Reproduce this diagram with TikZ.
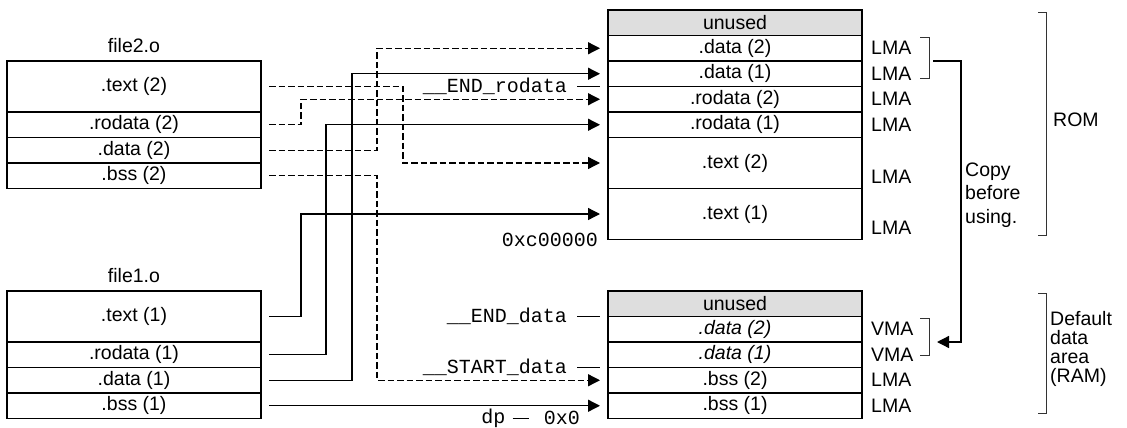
\documentclass[tikz,border=0pt]{standalone}
\usepackage{fontspec}
\setmainfont{Liberation Sans}
\setmonofont{Liberation Mono}
\usetikzlibrary{positioning,arrows.meta}

\definecolor{sparegray}{HTML}{DEDEDE}

\begin{document}
\begin{tikzpicture}[x=1pt, y=-1pt, font=\fontsize{19.5}{22}\selectfont,
  sect/.style={draw, line width=1.8pt, minimum width=254pt,
               minimum height=25.5pt, inner sep=0pt, outer sep=0pt},
  tall/.style={sect, minimum height=51pt},
  spare/.style={sect, fill=sparegray},
  virt/.style={font=\fontsize{19.5}{22}\selectfont\itshape},
  addr/.style={font=\fontsize{20}{22}\selectfont\ttfamily, inner sep=0pt},
  tag/.style={anchor=west, inner sep=0pt},
  link/.style={line width=1.3pt, -{Triangle[length=12pt,width=12pt]},
               shorten <=8pt, shorten >=8pt},
  move/.style={link, dash pattern=on 6.5pt off 3pt},
  tick/.style={line width=0.9pt},
  brak/.style={line width=1pt, black!80}]

\useasboundingbox (0,0) rectangle (1127,428);

% ============================================================ file2.o
\node[tall, anchor=north west] (f2text) at (7,61) {.text (2)};
\node[sect, below=0pt of f2text]   (f2rodata) {.rodata (2)};
\node[sect, below=0pt of f2rodata] (f2data)   {.data (2)};
\node[sect, below=0pt of f2data]   (f2bss)    {.bss (2)};
\node[above=6pt of f2text, inner sep=2pt] (f2name) {file2.o};

% ============================================================ file1.o
\node[tall, anchor=north west] (f1text) at (7,291) {.text (1)};
\node[sect, below=0pt of f1text]   (f1rodata) {.rodata (1)};
\node[sect, below=0pt of f1rodata] (f1data)   {.data (1)};
\node[sect, below=0pt of f1data]   (f1bss)    {.bss (1)};
\node[above=6pt of f1text, inner sep=2pt] (f1name) {file1.o};

% ================================================================ ROM
\node[spare, anchor=north west] (romfree) at (608,10) {unused};
\node[sect, below=0pt of romfree]    (romdata2)   {.data (2)};
\node[sect, below=0pt of romdata2]   (romdata1)   {.data (1)};
\node[sect, below=0pt of romdata1]   (romrodata2) {.rodata (2)};
\node[sect, below=0pt of romrodata2] (romrodata1) {.rodata (1)};
\node[tall, below=0pt of romrodata1] (romtext2)   {.text (2)};
\node[tall, below=0pt of romtext2]   (romtext1)   {.text (1)};

\foreach \r in {romdata2, romdata1, romrodata2, romrodata1}
  \node[tag] (lma-\r) at ([xshift=9pt]\r.east) {LMA};
% the two tall rows carry their tag low, not centred
\foreach \r in {romtext2, romtext1}
  \node[tag] (lma-\r) at ([xshift=9pt, yshift=-13.5pt]\r.east) {LMA};

% ================================================================ RAM
\node[spare, anchor=north west] (ramfree) at (608,291) {unused};
\node[sect, virt, below=0pt of ramfree]  (ramdata2) {.data (2)};
\node[sect, virt, below=0pt of ramdata2] (ramdata1) {.data (1)};
\node[sect, below=0pt of ramdata1]       (rambss2)  {.bss (2)};
\node[sect, below=0pt of rambss2]        (rambss1)  {.bss (1)};

\foreach \r/\m in {ramdata2/VMA, ramdata1/VMA, rambss2/LMA, rambss1/LMA}
  \node[tag] (ma-\r) at ([xshift=9pt]\r.east) {\m};

% ========================================================= connectors
\draw[move] (f2text.east)   -- ++(142,0) |- (romtext2.west);
\draw[move] (f2rodata.east) -- ++(40,0)  |- (romrodata2.west);
\draw[move] (f2data.east)   -- ++(116,0) |- (romdata2.west);
\draw[move] (f2bss.east)    -- ++(116,0) |- (rambss2.west);

\draw[link] (f1text.east)   -- ++(40,0)  |- (romtext1.west);
\draw[link] (f1rodata.east) -- ++(65,0)  |- (romrodata1.west);
\draw[link] (f1data.east)   -- ++(91,0)  |- (romdata1.west);
\draw[link] (f1bss.east)    -- (rambss1.west);

% ============================================================ symbols
\node[addr, anchor=east] (endrodata) at ([xshift=-41pt]romdata1.south west)
  {\_\_END\_rodata};
\draw[tick] ([xshift=10pt]endrodata.east) -- ([xshift=-8pt]romdata1.south west);

\node[addr, anchor=east] (romorg) at ([xshift=-10pt]romtext1.south west)
  {0xc00000};

\node[addr, anchor=east] (enddata) at ([xshift=-41pt]ramfree.south west)
  {\_\_END\_data};
\draw[tick] ([xshift=10pt]enddata.east) -- ([xshift=-8pt]ramfree.south west);

\node[addr, anchor=east] (startdata) at ([xshift=-41pt]ramdata1.south west)
  {\_\_START\_data};
\draw[tick] ([xshift=10pt]startdata.east) -- ([xshift=-8pt]ramdata1.south west);

\node[addr, anchor=east] (zero) at ([xshift=-28pt, yshift=0.5pt]rambss1.south west)
  {0x0};
\node[addr, anchor=east] (dp) at ([xshift=-38pt]zero.west) {dp};
\draw[tick] ([xshift=7pt]dp.east) -- ([xshift=-15pt]zero.west);

% =========================================================== brackets
% LMA pair in ROM, copied to the VMA pair in RAM
\draw[brak] (920,38) -- (929,38) -- (929,79) -- (920,79);
\draw[brak] (920,318) -- (929,318) -- (929,355) -- (920,355);
\coordinate (lmaside) at (933,61);
\coordinate (vmaside) at (937,342);
\draw[line width=1.3pt, -{Triangle[length=12pt,width=12pt]}]
  (lmaside) -- ++(28,0) |- (vmaside);
\node[anchor=west, align=left, inner sep=0pt,
      font=\fontsize{19.5}{23.5}\selectfont] (copynote) at (965,195)
  {Copy\\before\\using.};

% ROM and RAM spans
\draw[brak] (1038,13) -- (1046,13) -- (1046,235) -- (1038,235);
\node[anchor=west, inner sep=0pt] (romname) at (1053,120) {ROM};
\draw[brak] (1038,293) -- (1046,293) -- (1046,413) -- (1038,413);
\node[anchor=west, align=left, inner sep=0pt,
      font=\fontsize{19.5}{19.3}\selectfont] (ramname) at (1050,349)
  {Default\\data\\area\\(RAM)};

\end{tikzpicture}
\end{document}
